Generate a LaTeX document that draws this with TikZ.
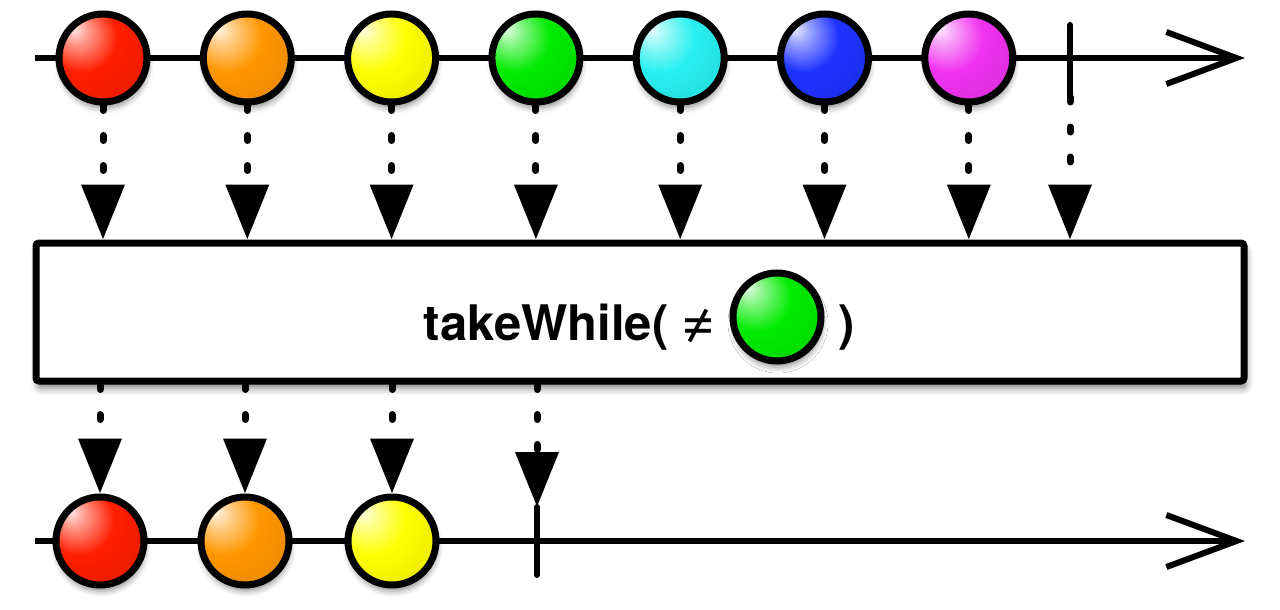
\documentclass[tikz,border=0pt]{standalone}
\usepackage{fontspec}
\setmainfont{TeX Gyre Heros}
\usetikzlibrary{arrows.meta,positioning,shadows.blur}

% marble colours
\definecolor{mRed}{RGB}{255,30,0}
\definecolor{mOrange}{RGB}{255,150,0}
\definecolor{mYellow}{RGB}{255,255,0}
\definecolor{mGreen}{RGB}{0,235,0}
\definecolor{mCyan}{RGB}{40,240,240}
\definecolor{mBlue}{RGB}{30,50,255}
\definecolor{mMagenta}{RGB}{240,50,240}

% glossy shading, recoloured each time through the colour marble
\colorlet{marble}{red}
\pgfdeclareradialshading[marble]{marble}{\pgfpoint{-17bp}{17bp}}{%
  color(0bp)=(marble!10!white); color(7bp)=(marble!45!white);
  color(20bp)=(marble); color(46bp)=(marble!88!black);
  color(66bp)=(marble!58!black)}

\tikzset{
  timeline/.style={line width=6pt, -{Straight Barb[length=70pt,width=52pt]}},
  endtick/.style={line width=6pt, line cap=round},
  feed/.style={line width=7pt, line cap=round, dash pattern=on 5pt off 25pt,
    -{Triangle[length=55pt,width=42pt]}},
  marble/.style={circle, draw, line width=7pt, minimum size=88pt, inner sep=0pt,
    /utils/exec={\colorlet{marble}{#1}}, shading=marble,
    blur shadow={shadow xshift=1pt, shadow yshift=-6pt, shadow blur radius=6pt, shadow opacity=45}},
  operator/.style={draw, fill=white, line width=7pt, rounded corners=3pt,
    minimum width=1208pt, minimum height=138pt,
    blur shadow={shadow xshift=2pt, shadow yshift=-7pt, shadow blur radius=7pt, shadow opacity=50}},
  optext/.style={font=\fontsize{49}{58}\selectfont\bfseries, inner sep=0pt},
}

\begin{document}
\begin{tikzpicture}[x=1pt, y=-1pt]
    \useasboundingbox (0,0) rectangle (1280,610);

    % source stream
    \coordinate (inStart) at (35,58);
    \coordinate (inEnd) at (1245,58);
    \draw[timeline] (inStart) -- (inEnd);
    \foreach \c [count=\i] in {mRed,mOrange,mYellow,mGreen,mCyan,mBlue,mMagenta}
        \node[marble=\c] (t\i) at ({103+144.3*(\i-1)},58) {};
    \coordinate (inTickTop) at (1070,25);
    \coordinate (inTickBot) at (1070,97);
    \draw[endtick] (inTickTop) -- (inTickBot);

    % operator
    \node[operator] (op) at (640,312) {};
    \node[optext, anchor=base east] (lbl) at (716,340) {takeWhile( {\fontsize{58}{60}\selectfont\mdseries ≠}};
    \node[marble=mGreen] (pred) at (777,317) {};
    \node[optext, anchor=base west] (close) at (838,340) {)};

    % emissions into the operator
    \foreach \i in {1,...,7}
        \draw[feed] (t\i.south) -- (t\i.south |- op.north);
    \draw[feed] (inTickBot) -- (inTickBot |- op.north);

    % result stream
    \coordinate (outStart) at (35,541);
    \coordinate (outEnd) at (1245,541);
    \draw[timeline] (outStart) -- (outEnd);
    \foreach \c/\x [count=\i] in {mRed/100,mOrange/245,mYellow/392}
        \node[marble=\c] (b\i) at (\x,541) {};
    \coordinate (outTickTop) at (537,507);
    \coordinate (outTickBot) at (537,575);
    \draw[endtick] (outTickTop) -- (outTickBot);

    % emissions out of the operator
    \foreach \i in {1,2,3}
        \draw[feed] (b\i |- op.south) -- (b\i.north);
    \draw[feed] (outTickTop |- op.south) -- (outTickTop);
\end{tikzpicture}
\end{document}
